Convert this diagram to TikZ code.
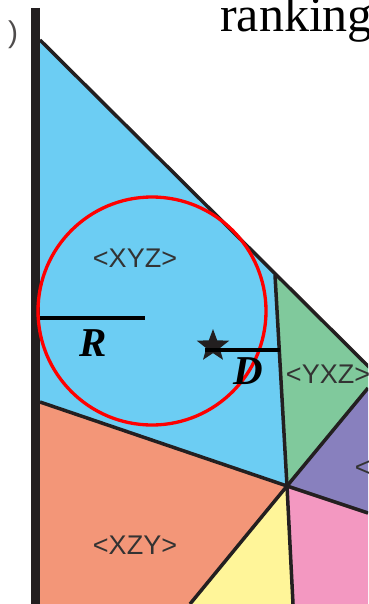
\documentclass[tikz,border=0pt]{standalone}
\usepackage{fontspec}
\setmainfont{Liberation Serif}
\setsansfont{Liberation Sans}
\usetikzlibrary{shapes.geometric,calc}
\definecolor{cellblue}{HTML}{6CCDF3}
\definecolor{cellgreen}{HTML}{80C99C}
\definecolor{cellpurple}{HTML}{8880BE}
\definecolor{cellsalmon}{HTML}{F39678}
\definecolor{cellyellow}{HTML}{FFF599}
\definecolor{cellpink}{HTML}{F398C1}
\definecolor{edge}{HTML}{231F20}
\definecolor{labgray}{HTML}{333333}

\begin{document}
\begin{tikzpicture}[x=1pt, y=-1pt,
  cell/.style={draw=edge, line width=3.5pt, line join=round},
  lab/.style={font=\sffamily\fontsize{27}{27}\selectfont, text=labgray, inner sep=0pt},
  sym/.style={font=\bfseries\itshape\fontsize{41}{41}\selectfont, inner sep=0pt},
  bar/.style={line width=4pt}]
  \useasboundingbox (0,0) rectangle (368,604);
  \clip (0,0) rectangle (368,604);
  % corners of the cells (pixel grid, y down)
  \coordinate (top) at (40,40);
  \coordinate (hit) at (275,275);
  \coordinate (ctr) at (287,486);
  \coordinate (lft) at (40,402);
  \coordinate (rgA) at (368,366);
  \coordinate (rgB) at (368,388);
  \coordinate (rgC) at (368,513);
  \coordinate (btA) at (190,604);
  \coordinate (btB) at (293,604);
  \coordinate (lbt) at (40,604);
  \coordinate (rbt) at (368,604);
  \fill[cellblue]   (top) -- (hit) -- (ctr) -- (lft) -- cycle;
  \fill[cellgreen]  (hit) -- (rgA) -- (rgB) -- (ctr) -- cycle;
  \fill[cellpurple] (rgB) -- (rgC) -- (ctr) -- cycle;
  \fill[cellpink]   (ctr) -- (rgC) -- (rbt) -- (btB) -- cycle;
  \fill[cellyellow] (ctr) -- (btB) -- (btA) -- cycle;
  \fill[cellsalmon] (lft) -- (ctr) -- (btA) -- (lbt) -- cycle;
  \draw[cell] (top) -- ($(top)!1.05!(rgA)$);
  \draw[cell] (hit) -- (ctr);
  \draw[cell] (lft) -- (ctr);
  \draw[cell] (ctr) -- (btA);
  \draw[cell] (ctr) -- (btB);
  \draw[cell] (ctr) -- (rgB);
  \draw[cell] (ctr) -- (rgC);
  \draw[edge, line width=9pt] (35.5,8) -- (35.5,604);
  \node[lab] (xyz) at (135,258) {<XYZ>};
  \node[lab] (yxz) at (328,374) {<YXZ>};
  \node[lab] (yzx) at (397,467) {<YZX>};
  \node[lab] (xzy) at (135,545) {<XZY>};
  % disc of radius R round the star
  \draw[red, line width=3.3pt] (152,311) circle[radius=114];
  \draw[bar] (40,318) -- (145,318);
  \node[sym] (rr) at (93,343) {R};
  \node[star, star points=5, star point ratio=2.4, fill=edge, inner sep=0pt, minimum size=34pt] (pt) at (213,346) {};
  \draw[bar] (205,350) -- (280,350);
  \node[sym] (dd) at (248,371) {D};
  \node[anchor=base west, inner sep=0pt, font=\fontsize{50}{50}\selectfont] (rank) at (220,32) {ranking};
  \node[text=edge!80, font=\sffamily\fontsize{30}{30}\selectfont, inner sep=0pt] (brk) at (13,35) {)};
\end{tikzpicture}
\end{document}
